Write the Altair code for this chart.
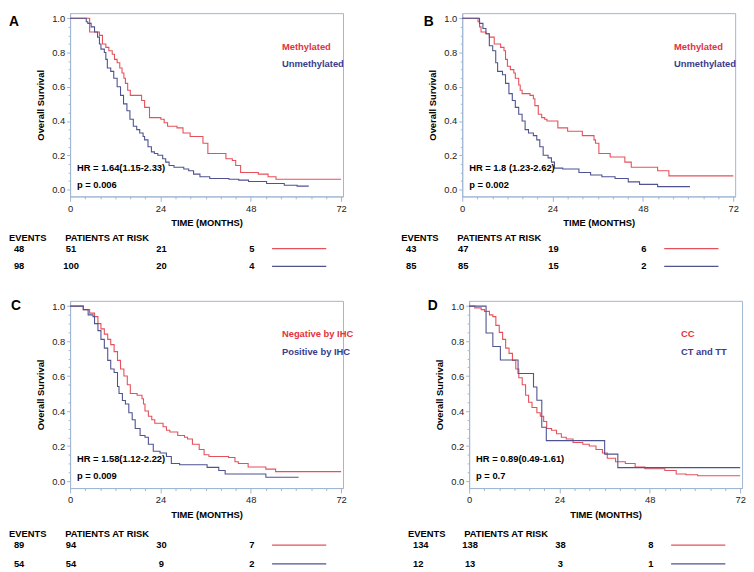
import altair as alt
import pandas as pd

FONT = "Liberation Sans"
RED_TXT = "#e2323e"
BLUE_TXT = "#393b8c"
RED_LN = "#e6505a"
BLUE_LN = "#4f5391"
FRAME = "#9fb6d2"

# ---------------- data ----------------
# Panel A
A_groups = ["Methylated", "Unmethylated"]
A_red_t = [0, 5.2, 7.8, 8.6, 9.5, 10.3, 11.2, 11.8, 12.5, 13.2, 13.8, 14.3, 14.7, 15.3, 16.0, 19.0, 19.8,
           21.1, 24.1, 25.0, 25.9, 28.4, 30.0, 31.9, 35.3, 36.6, 41.4, 43.1, 44.0, 45.3, 50.0, 52.6, 54.7, 72]
A_red_s = [1.0, 0.92, 0.90, 0.85, 0.83, 0.81, 0.79, 0.76, 0.74, 0.71, 0.68, 0.65, 0.62, 0.58, 0.55, 0.52, 0.48,
           0.42, 0.41, 0.39, 0.37, 0.36, 0.33, 0.31, 0.27, 0.21, 0.18, 0.17, 0.14, 0.10, 0.09, 0.075, 0.06, 0.06]
A_blue_t = [0, 4.3, 4.7, 5.6, 6.5, 7.3, 7.8, 8.2, 9.1, 9.5, 9.9, 10.8, 11.6, 12.5, 13.4, 14.2, 15.1, 15.9,
            16.8, 17.7, 18.5, 19.4, 19.8, 20.7, 21.6, 22.4, 23.3, 24.6, 25.4, 26.3, 27.6, 30.2, 31.5, 32.8,
            34.5, 37.1, 42.2, 44.8, 47.4, 52.2, 56.9, 60.3, 63.4]
A_blue_s = [1.0, 0.98, 0.97, 0.95, 0.92, 0.89, 0.85, 0.82, 0.80, 0.76, 0.71, 0.69, 0.65, 0.60, 0.55, 0.50,
            0.46, 0.41, 0.37, 0.35, 0.33, 0.31, 0.29, 0.25, 0.22, 0.21, 0.20, 0.18, 0.16, 0.14, 0.13, 0.12,
            0.11, 0.09, 0.075, 0.065, 0.06, 0.055, 0.047, 0.035, 0.025, 0.02, 0.02]
A_events = [48, 98]
A_risk = [[51, 21, 5], [100, 20, 4]]
A_hr = "HR = 1.64(1.15-2.33)"
A_p = "p = 0.006"

# Panel B
B_groups = ["Methylated", "Unmethylated"]
B_red_t = [0, 4.2, 4.6, 5.0, 6.3, 7.2, 8.5, 10.2, 11.1, 11.5, 12.0, 12.8, 13.7, 14.1, 15.0, 15.4, 15.9,
           18.0, 18.9, 19.3, 20.2, 21.1, 21.9, 22.5, 25.4, 28.0, 31.9, 35.0, 35.4, 36.3, 39.3, 43.2, 44.9,
           51.9, 54.9, 72]
B_red_s = [1.0, 0.98, 0.95, 0.92, 0.91, 0.89, 0.85, 0.83, 0.81, 0.76, 0.72, 0.70, 0.68, 0.65, 0.61, 0.58,
           0.56, 0.55, 0.53, 0.49, 0.44, 0.42, 0.41, 0.40, 0.36, 0.34, 0.315, 0.29, 0.27, 0.21, 0.19, 0.16,
           0.13, 0.11, 0.08, 0.08]
B_blue_t = [0, 4.6, 5.5, 6.3, 7.2, 8.1, 8.9, 9.4, 10.7, 11.5, 12.4, 13.3, 14.1, 15.0, 15.9, 16.7, 17.6,
            18.9, 19.8, 20.6, 21.5, 22.8, 23.7, 24.5, 26.7, 31.0, 34.1, 37.1, 40.6, 44.1, 47.1, 51.9, 60.5]
B_blue_s = [1.0, 0.97, 0.94, 0.91, 0.84, 0.81, 0.74, 0.69, 0.67, 0.62, 0.56, 0.52, 0.48, 0.44, 0.40, 0.35,
            0.33, 0.315, 0.29, 0.25, 0.20, 0.185, 0.16, 0.125, 0.12, 0.10, 0.085, 0.075, 0.065, 0.045, 0.03,
            0.017, 0.017]
B_events = [43, 85]
B_risk = [[47, 19, 6], [85, 15, 2]]
B_hr = "HR = 1.8 (1.23-2.62)"
B_p = "p = 0.002"

# Panel C
C_groups = ["Negative by IHC", "Positive by IHC"]
C_red_t = [0, 3.5, 5.2, 6.5, 7.4, 8.2, 9.1, 10.0, 10.8, 11.7, 12.6, 13.4, 14.3, 15.2, 16.0, 17.8, 19.1,
           19.5, 19.9, 20.8, 21.7, 22.5, 24.7, 25.6, 26.5, 28.6, 30.4, 31.2, 32.5, 34.3, 35.6, 36.9, 42.1,
           43.8, 44.7, 47.3, 52.0, 54.6, 72]
C_red_s = [1.0, 0.98, 0.96, 0.94, 0.90, 0.87, 0.84, 0.81, 0.78, 0.74, 0.69, 0.64, 0.60, 0.55, 0.50, 0.49,
           0.47, 0.44, 0.40, 0.37, 0.35, 0.33, 0.31, 0.29, 0.28, 0.26, 0.25, 0.24, 0.21, 0.18, 0.15, 0.14,
           0.135, 0.11, 0.10, 0.08, 0.068, 0.054, 0.054]
C_blue_t = [0, 3.5, 4.8, 6.1, 6.5, 7.4, 8.2, 9.1, 10.0, 10.8, 11.7, 12.6, 13.0, 13.9, 14.7, 15.6, 16.5,
            17.3, 18.6, 19.9, 20.8, 22.1, 23.9, 25.6, 26.9, 29.1, 36.4, 39.5, 41.2, 52.0, 60.7]
C_blue_s = [1.0, 0.98, 0.95, 0.94, 0.90, 0.86, 0.81, 0.76, 0.69, 0.64, 0.62, 0.54, 0.50, 0.46, 0.44, 0.39,
            0.35, 0.30, 0.26, 0.25, 0.21, 0.17, 0.16, 0.14, 0.10, 0.093, 0.078, 0.06, 0.04, 0.022, 0.022]
C_events = [89, 54]
C_risk = [[94, 30, 7], [54, 9, 2]]
C_hr = "HR = 1.58(1.12-2.22)"
C_p = "p = 0.009"

# Panel D
D_groups = ["CC", "CT and TT"]
D_red_t = [0, 1.5, 3.2, 4.1, 5.4, 6.3, 7.1, 8.0, 8.9, 9.7, 10.6, 11.5, 12.4, 13.2, 14.1, 15.0, 15.8, 16.7,
           18.0, 18.9, 19.8, 20.6, 21.9, 23.2, 24.5, 25.8, 27.6, 30.2, 31.9, 33.7, 35.4, 36.7, 38.9, 41.5,
           44.1, 46.7, 52.0, 55.0, 57.6, 60.7, 72]
D_red_s = [1.0, 0.99, 0.98, 0.97, 0.95, 0.94, 0.89, 0.85, 0.81, 0.76, 0.73, 0.69, 0.64, 0.59, 0.55, 0.49,
           0.45, 0.42, 0.39, 0.37, 0.34, 0.30, 0.29, 0.27, 0.25, 0.24, 0.22, 0.21, 0.20, 0.18, 0.16, 0.13,
           0.11, 0.10, 0.08, 0.07, 0.06, 0.04, 0.036, 0.03, 0.03]
D_blue_t = [0, 4.5, 6.3, 8.3, 13.0, 17.1, 18.0, 19.3, 20.5, 36.0, 39.5, 72]
D_blue_s = [1.0, 0.846, 0.769, 0.692, 0.615, 0.538, 0.462, 0.308, 0.231, 0.154, 0.077, 0.077]
D_events = [134, 12]
D_risk = [[138, 38, 8], [13, 3, 1]]
D_hr = "HR = 0.89(0.49-1.61)"
D_p = "p = 0.7"

RISK_TIMES = [0, 24, 48]
X_TICKS = [0, 4, 8, 12, 16, 20, 24, 28, 32, 36, 40, 44, 48, 52, 56, 60, 64, 68, 72]
Y_TICKS = [0.0, 0.05, 0.1, 0.15, 0.2, 0.25, 0.3, 0.35, 0.4, 0.45, 0.5,
           0.55, 0.6, 0.65, 0.7, 0.75, 0.8, 0.85, 0.9, 0.95, 1.0]

# ---------------- layout ----------------
W = 277
H_TOP, H_BOTTOM = 186, 190
XDOM = [0, 72.5]
YDOM = [-0.04, 1.03]
FS = 9.5


def txt(s, x, y, color="black", size=FS, weight="bold", align="left"):
    return alt.Chart(pd.DataFrame({"label": [s]})).mark_text(
        align=align, baseline="middle", font=FONT, fontSize=size,
        fontWeight=weight, color=color
    ).encode(text="label:N", x=alt.value(x), y=alt.value(y))


def panel(letter, letter_xy, groups, red, blue, events, risk, hr, p, H, table_off):
    xaxis = alt.Axis(
        values=X_TICKS,
        labelExpr="datum.value % 24 === 0 ? datum.label : ''",
        tickSize={"condition": {"test": "datum.value % 24 === 0", "value": 5}, "value": 2.5},
        title="TIME (MONTHS)", titlePadding=5, labelPadding=2,
        labelFlush=False, labelOverlap=False,
    )
    yaxis = alt.Axis(
        values=Y_TICKS, format=".1f",
        labelExpr="abs(datum.value * 5 - round(datum.value * 5)) < 0.001 ? datum.label : ''",
        tickSize={"condition": {"test": "abs(datum.value * 5 - round(datum.value * 5)) < 0.001",
                                "value": 3.5}, "value": 2},
        title="Overall Survival", titlePadding=6, labelPadding=2,
        labelFlush=False, labelOverlap=False,
    )
    xs = alt.Scale(domain=XDOM, nice=False, zero=False)
    ys = alt.Scale(domain=YDOM, nice=False, zero=False)

    def curve(t, s, col):
        return alt.Chart(pd.DataFrame({"time": t, "surv": s})).mark_line(
            interpolate="step-after", color=col, strokeWidth=1.1
        ).encode(x=alt.X("time:Q", scale=xs, axis=xaxis),
                 y=alt.Y("surv:Q", scale=ys, axis=yaxis))

    layers = [curve(red[0], red[1], RED_LN), curve(blue[0], blue[1], BLUE_LN)]

    # legend labels inside plot
    layers.append(txt(groups[0], 215, 34, RED_TXT))
    layers.append(txt(groups[1], 215, 52, BLUE_TXT))
    # HR / p
    layers.append(txt(hr, 7, H - 29))
    layers.append(txt(p, 7, H - 12))
    # panel letter
    layers.append(txt(letter, letter_xy[0], letter_xy[1], size=14, align="center"))

    # risk table
    header_y = H + table_off[0]
    row_y = [H + table_off[1], H + table_off[2]]
    layers.append(txt("EVENTS", -62, header_y))
    layers.append(txt("PATIENTS AT RISK", -5, header_y))
    cols = [RED_LN, BLUE_LN]
    for i in range(2):
        layers.append(txt(str(events[i]), -57, row_y[i]))
        layers.append(
            alt.Chart(pd.DataFrame({"time": RISK_TIMES, "n": risk[i]})).mark_text(
                align="center", baseline="middle", font=FONT, fontSize=FS,
                fontWeight="bold", color="black", dx=1
            ).encode(x=alt.X("time:Q", scale=xs, axis=xaxis), y=alt.value(row_y[i]), text="n:Q")
        )
        layers.append(
            alt.Chart(pd.DataFrame({"k": [0]})).mark_rule(color=cols[i], strokeWidth=1.2).encode(
                x=alt.value(205), x2=alt.value(260), y=alt.value(row_y[i]))
        )
    return alt.layer(*layers).properties(width=W, height=H)


TOP_TABLE = (42, 53, 71)
BOTTOM_TABLE = (47, 58, 77)

pA = panel("A", (-57, 9), A_groups, (A_red_t, A_red_s), (A_blue_t, A_blue_s), A_events, A_risk, A_hr, A_p,
           H_TOP, TOP_TABLE)
pB = panel("B", (-34, 9), B_groups, (B_red_t, B_red_s), (B_blue_t, B_blue_s), B_events, B_risk, B_hr, B_p,
           H_TOP, TOP_TABLE)
pC = panel("C", (-55, 5), C_groups, (C_red_t, C_red_s), (C_blue_t, C_blue_s), C_events, C_risk, C_hr, C_p,
           H_BOTTOM, BOTTOM_TABLE)
pD = panel("D", (-37, 5), D_groups, (D_red_t, D_red_s), (D_blue_t, D_blue_s), D_events, D_risk, D_hr, D_p,
           H_BOTTOM, BOTTOM_TABLE)

chart = alt.vconcat(
    alt.hconcat(pA, pB, spacing=54),
    alt.hconcat(pC, pD, spacing=54),
    spacing=27,
).properties(padding=0, background="white").configure_view(
    stroke=FRAME, strokeWidth=1
).configure_axis(
    domainColor=FRAME, tickColor=FRAME, grid=False, labelOverlap=False,
    labelFont=FONT, labelFontSize=FS, labelColor="#222",
    titleFont=FONT, titleFontSize=FS, titleFontWeight="bold", titleColor="black",
)

chart.save("out.html", embed_options={"renderer": "svg", "actions": False})
